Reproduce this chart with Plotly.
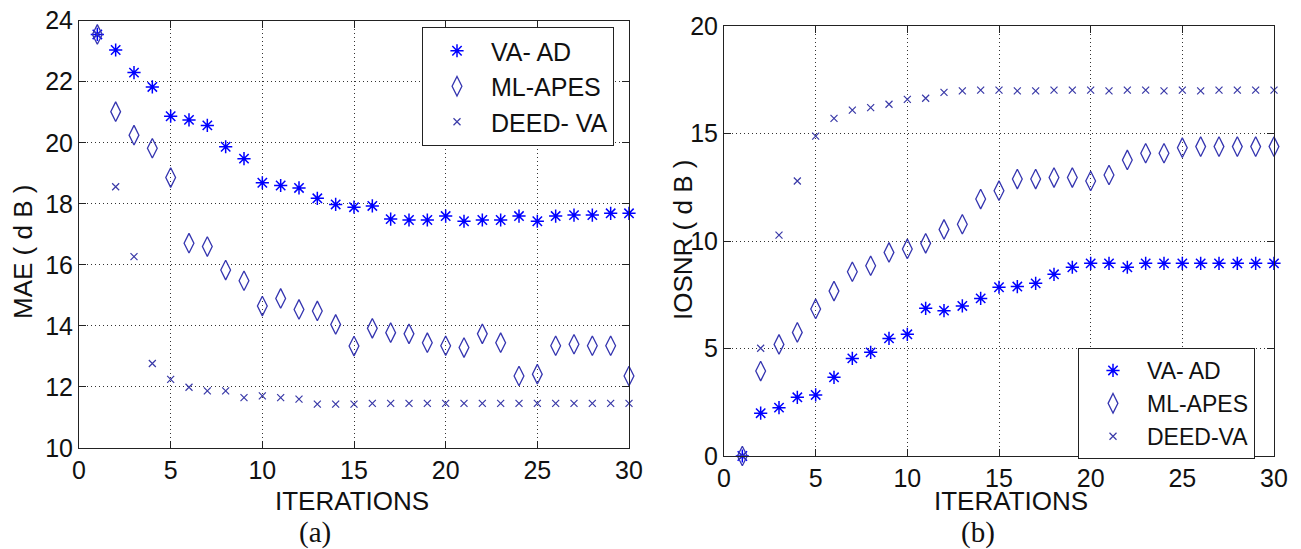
import plotly.graph_objects as go

iterations = list(range(1, 31))

# (a) MAE (dB)
mae_va_ad = [23.55, 23.04, 22.3, 21.83, 20.87, 20.75, 20.57, 19.87, 19.48, 18.69,
             18.6, 18.52, 18.18, 17.98, 17.89, 17.93, 17.5, 17.47, 17.47, 17.6,
             17.43, 17.47, 17.47, 17.6, 17.43, 17.6, 17.63, 17.63, 17.69, 17.69]
mae_ml_apes = [23.55, 21.02, 20.25, 19.82, 18.86, 16.71, 16.6, 15.83, 15.48, 14.65,
               14.9, 14.54, 14.49, 14.05, 13.34, 13.92, 13.78, 13.74, 13.45, 13.35,
               13.29, 13.74, 13.45, 12.36, 12.42, 13.35, 13.4, 13.35, 13.35, 12.36]
mae_deed_va = [23.55, 18.56, 16.27, 12.77, 12.25, 11.99, 11.87, 11.87, 11.65, 11.71,
               11.65, 11.6, 11.44, 11.44, 11.44, 11.46, 11.46, 11.46, 11.46, 11.46,
               11.46, 11.46, 11.46, 11.46, 11.46, 11.46, 11.46, 11.46, 11.46, 11.46]

# (b) IOSNR (dB)
iosnr_va_ad = [0.0, 1.99, 2.25, 2.73, 2.84, 3.66, 4.54, 4.82, 5.47, 5.66,
               6.87, 6.76, 6.98, 7.33, 7.85, 7.88, 8.03, 8.45, 8.78, 8.96,
               8.96, 8.78, 8.96, 8.96, 8.96, 8.96, 8.96, 8.96, 8.96, 8.96]
iosnr_ml_apes = [0.0, 3.95, 5.19, 5.75, 6.84, 7.67, 8.57, 8.85, 9.47, 9.63,
                 9.89, 10.54, 10.78, 11.95, 12.34, 12.88, 12.88, 12.95, 12.95, 12.79,
                 13.07, 13.77, 14.08, 14.08, 14.34, 14.39, 14.39, 14.39, 14.39, 14.39]
iosnr_deed_va = [0.0, 5.01, 10.27, 12.79, 14.88, 15.7, 16.09, 16.2, 16.36, 16.59,
                 16.64, 16.91, 16.98, 17.02, 17.02, 16.98, 16.98, 17.02, 17.02, 17.02,
                 16.98, 17.02, 17.02, 16.98, 17.02, 16.98, 17.02, 17.02, 17.02, 17.02]

W, H = 1301, 549
FONT = "Liberation Sans, Arial, sans-serif"
STAR_C = "#0000ff"
DIA_C = "#3535b0"
X_C = "#3a3aa8"

def px(x):
    return x / W

def py(y):
    return 1 - y / H

fig = go.Figure()

def add_series(xa, ya, leg, names, data):
    styles = [
        dict(symbol="asterisk-open", size=11, color=STAR_C, line=dict(color=STAR_C, width=1.5)),
        dict(symbol="diamond-tall-open", size=14, color=DIA_C, line=dict(color=DIA_C, width=1.3)),
        dict(symbol="x-thin-open", size=7, color=X_C, line=dict(color=X_C, width=1.2)),
    ]
    for name, vals, st in zip(names, data, styles):
        fig.add_trace(go.Scatter(
            x=iterations, y=vals, mode="markers", name=name,
            marker=st, xaxis=xa, yaxis=ya, legend=leg, cliponaxis=False,
        ))

add_series("x", "y", "legend", ["VA- AD", "ML-APES", "DEED- VA"],
           [mae_va_ad, mae_ml_apes, mae_deed_va])
add_series("x2", "y2", "legend2", ["VA- AD", "ML-APES", "DEED-VA"],
           [iosnr_va_ad, iosnr_ml_apes, iosnr_deed_va])

axis_common = dict(
    showline=True, linecolor="#222", linewidth=1, mirror="ticks",
    ticks="inside", ticklen=7, tickcolor="#222", tickwidth=1,
    showgrid=True, gridcolor="#333", griddash="1px,3px", gridwidth=1,
    zeroline=False, automargin=False,
    tickfont=dict(family=FONT, size=25, color="#111"),
)

fig.update_layout(
    width=W, height=H, margin=dict(l=0, r=0, t=0, b=0, autoexpand=False),
    paper_bgcolor="white", plot_bgcolor="white",
    font=dict(family=FONT, color="#111"),
    xaxis=dict(domain=[px(79), px(629)], range=[0, 30], dtick=5, anchor="y", **axis_common),
    yaxis=dict(domain=[py(448), py(20.7)], range=[10, 24], dtick=2, anchor="x", **axis_common),
    xaxis2=dict(domain=[px(724), px(1274)], range=[0, 30], dtick=5, anchor="y2", **axis_common),
    yaxis2=dict(domain=[py(456), py(26)], range=[0, 20], dtick=5, anchor="x2", **axis_common),
    legend=dict(x=px(422), y=py(27), xanchor="left", yanchor="top",
                bgcolor="white", bordercolor="#222", borderwidth=1, itemwidth=58,
                font=dict(family=FONT, size=25, color="#111"), tracegroupgap=0),
    legend2=dict(x=px(1078), y=py(348), xanchor="left", yanchor="top",
                 bgcolor="white", bordercolor="#222", borderwidth=1, itemwidth=58,
                 font=dict(family=FONT, size=23, color="#111"), tracegroupgap=0),
    showlegend=True,
)

ann = [
    dict(text="MAE ( d B )", x=px(23), y=py(252), textangle=-90,
         font=dict(family=FONT, size=26, color="#111")),
    dict(text="IOSNR ( d B )", x=px(683), y=py(240), textangle=-90,
         font=dict(family=FONT, size=26, color="#111")),
    dict(text="ITERATIONS", x=px(352), y=py(501),
         font=dict(family=FONT, size=26, color="#111")),
    dict(text="ITERATIONS", x=px(1011), y=py(501),
         font=dict(family=FONT, size=26, color="#111")),
    dict(text="(a)", x=px(315), y=py(532),
         font=dict(family="Liberation Serif, Times New Roman, serif", size=29, color="#111")),
    dict(text="(b)", x=px(978), y=py(532),
         font=dict(family="Liberation Serif, Times New Roman, serif", size=29, color="#111")),
]
for a in ann:
    fig.add_annotation(xref="paper", yref="paper", showarrow=False,
                       xanchor="center", yanchor="middle", **a)

fig.write_html(
    "out.html",
    config={"displayModeBar": False},
    post_script="document.body.style.margin='0';document.body.style.padding='0';"
                "document.documentElement.style.overflow='hidden';",
)
